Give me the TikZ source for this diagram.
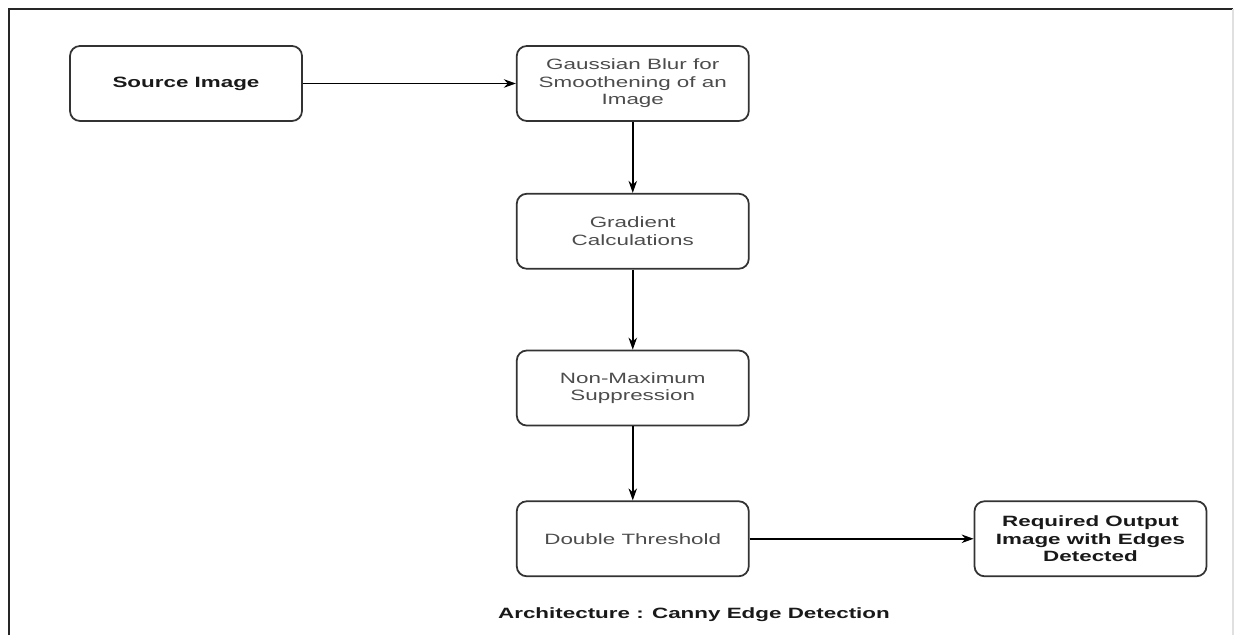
\documentclass[tikz,border=0pt]{standalone}
\usepackage{fontspec}
\setmainfont[FakeStretch=1.5]{Liberation Sans}
\usetikzlibrary{arrows.meta}
\usetikzlibrary{positioning}

\begin{document}
\begin{tikzpicture}[
  ->, >={Stealth[length=2.4mm,width=1.7mm]}, line width=0.9pt,
  every node/.style={font=\fontsize{8.5}{10}\selectfont},
  stage/.style={rectangle,rounded corners=2mm,draw=black!80,line width=1pt,
    minimum width=46.4mm,minimum height=15mm,inner sep=2pt,align=center,text=black!70},
  keystage/.style={stage,font=\fontsize{8.5}{10}\selectfont\bfseries,text=black!90}
]
\useasboundingbox (0,0) rectangle (24.8,12.7);

% --- Frame ---
\draw[-,line width=1.2pt,black!85] (0.18,0) -- (0.18,12.52) -- (24.66,12.52);
\draw[-,line width=0.6pt,black!12] (24.66,12.52) -- (24.66,0);

% --- Stages ---
\node[keystage]                    (src)  at (3.72,11.03) {Source Image};
\node[stage,right=4.26cm of src]   (blur) {Gaussian Blur for\\Smoothening of an\\Image};
\node[stage,below=1.42cm of blur]  (grad) {Gradient\\Calculations};
\node[stage,below=1.6cm of grad]   (nms)  {Non-Maximum\\Suppression};
\node[stage,below=1.48cm of nms]   (dth)  {Double Threshold};
\node[keystage,right=4.48cm of dth] (out) {Required Output\\Image with Edges\\Detected};

% --- Caption ---
\node[font=\fontsize{8.5}{10}\selectfont\bfseries,text=black!90] (cap) at (13.88,0.4)
  {Architecture : Canny Edge Detection};

% --- Flow ---
\path
  (src)  edge (blur)
  (blur) edge (grad)
  (grad) edge (nms)
  (nms)  edge (dth)
  (dth)  edge (out);

\end{tikzpicture}
\end{document}
